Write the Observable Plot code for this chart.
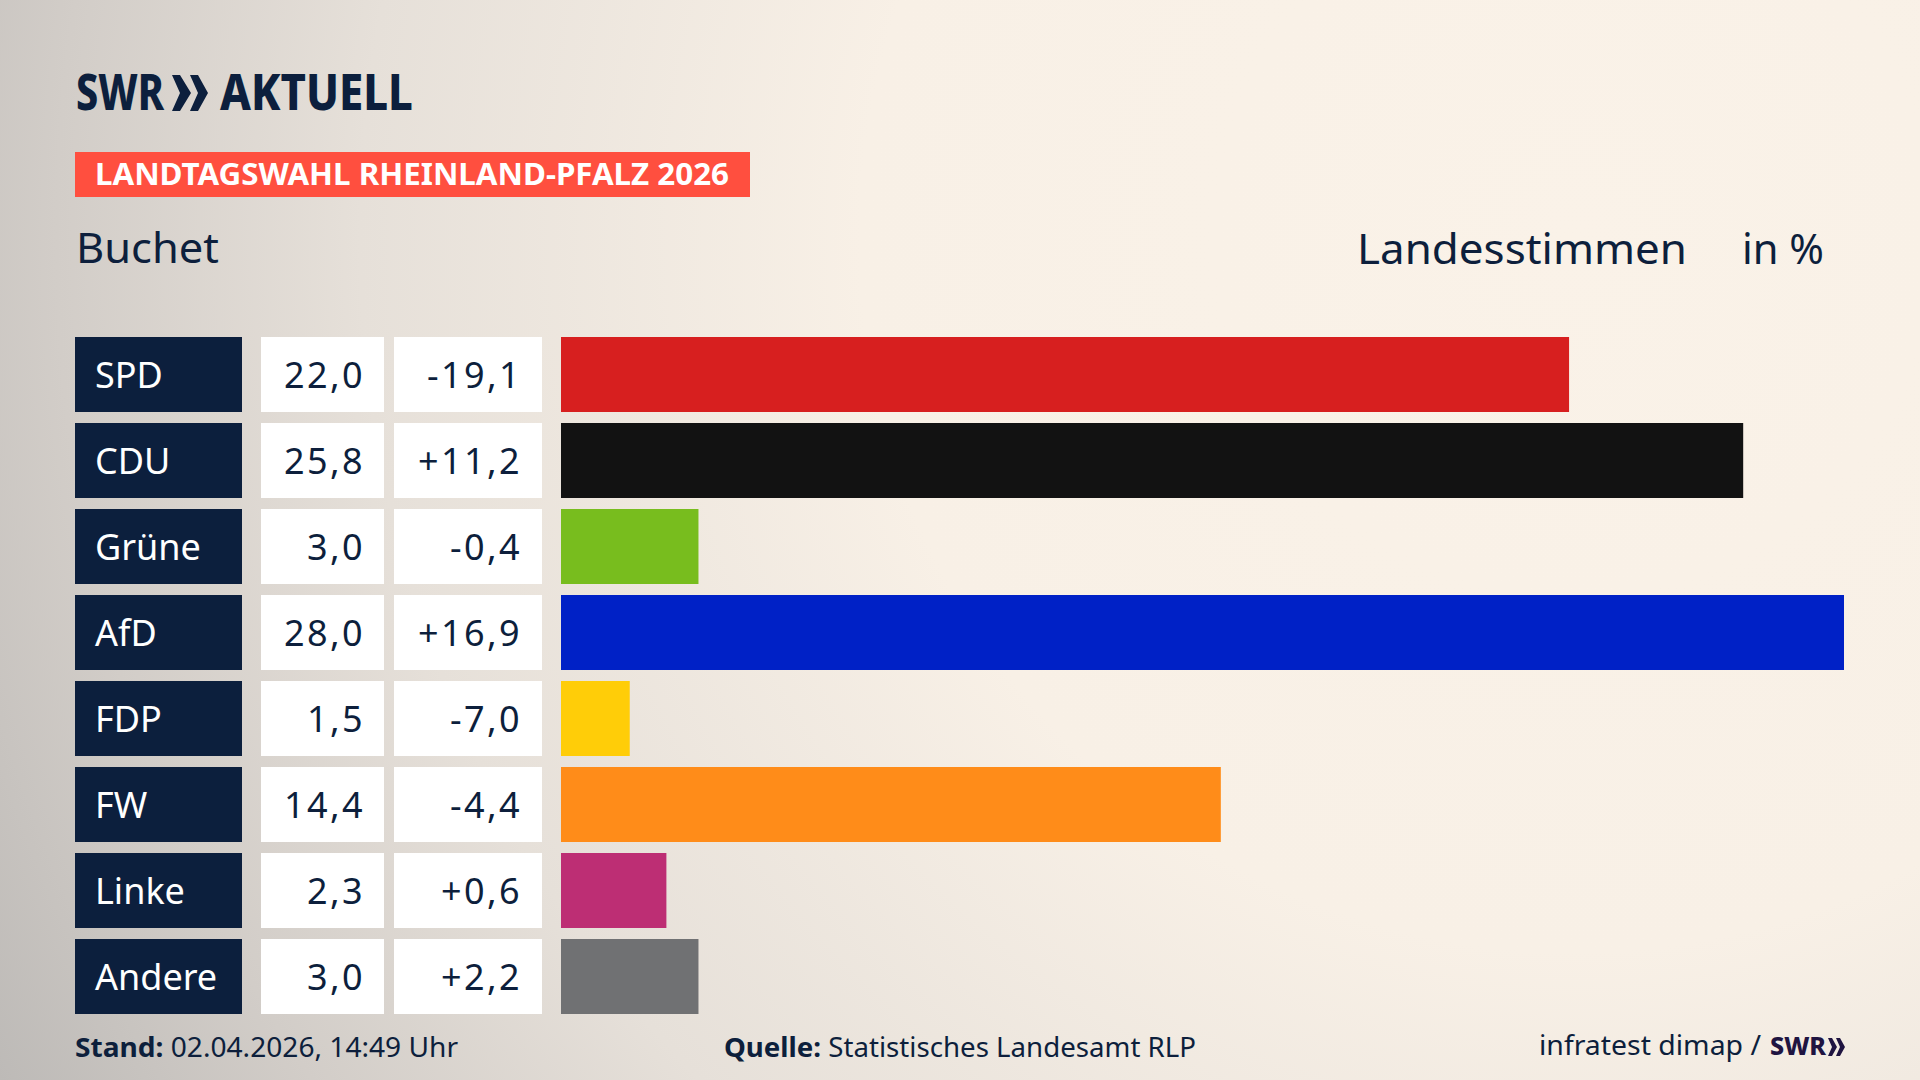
<!DOCTYPE html>
<html><head><meta charset="utf-8">
<script src="https://cdn.jsdelivr.net/npm/d3@7"></script>
<script src="https://cdn.jsdelivr.net/npm/@observablehq/plot@0.6"></script>
<style>
html,body{margin:0;padding:0;width:1920px;height:1080px;overflow:hidden;}
body{position:relative;font-family:"Noto Sans",sans-serif;color:#0d1f3c;
 background: radial-gradient(circle farthest-corner at 82% 22%, #faf2e8 0%, #f8f0e6 40%, #e6e0d9 68%, #d2cdc8 85%, #bdbab7 100%);}
#deco{position:absolute;left:0;top:0;}
#chart{position:absolute;left:561px;top:335px;}
.cell{position:absolute;display:flex;align-items:center;box-sizing:border-box;font-size:36px;}
.party{background:#0c1f3d;color:#fff;padding-left:20px;}
.num{background:#fff;color:#0d1f3c;justify-content:flex-end;letter-spacing:2.4px;}
</style></head><body>
<svg id="deco" width="1920" height="1080" xmlns="http://www.w3.org/2000/svg" font-family="Noto Sans, sans-serif">
  <g fill="#0c1f3d">
    <text x="76" y="110" font-size="49" font-weight="800" textLength="88" lengthAdjust="spacingAndGlyphs">SWR</text>
    <polygon points="172,75 180,75 191,93 180,111 172,111 180,93"/>
    <polygon points="190,75 198,75 208,93 198,111 190,111 198,93"/>
    <text x="220" y="110" font-size="49" font-weight="800" textLength="193" lengthAdjust="spacingAndGlyphs">AKTUELL</text>
  </g>
  <rect x="75" y="152" width="675" height="45" fill="#ff4f3f"/>
  <text x="95" y="185" font-size="30" font-weight="700" fill="#fff" textLength="634" lengthAdjust="spacingAndGlyphs">LANDTAGSWAHL RHEINLAND-PFALZ 2026</text>
  <text x="76" y="263" font-size="42" fill="#0d1f3c" textLength="143" lengthAdjust="spacingAndGlyphs">Buchet</text>
  <text x="1357" y="264" font-size="42" fill="#0d1f3c" textLength="330" lengthAdjust="spacingAndGlyphs">Landesstimmen</text>
  <text x="1742" y="264" font-size="42" fill="#0d1f3c" textLength="82" lengthAdjust="spacingAndGlyphs">in %</text>
  <text x="75" y="1057" font-size="27" fill="#0d1f3c" textLength="383" lengthAdjust="spacingAndGlyphs"><tspan font-weight="700">Stand:</tspan> 02.04.2026, 14:49 Uhr</text>
  <text x="724" y="1057" font-size="27" fill="#0d1f3c" textLength="472" lengthAdjust="spacingAndGlyphs"><tspan font-weight="700">Quelle:</tspan> Statistisches Landesamt RLP</text>
  <text x="1539" y="1055" font-size="27" fill="#0d1f3c" textLength="222" lengthAdjust="spacingAndGlyphs">infratest dimap /</text>
  <g fill="#1f1441">
    <text x="1770" y="1055" font-size="24" font-weight="800" textLength="56" lengthAdjust="spacingAndGlyphs">SWR</text>
    <polygon points="1828,1038 1832,1038 1837,1047 1832,1056 1828,1056 1832,1047"/>
    <polygon points="1836,1038 1840,1038 1845,1047 1840,1056 1836,1056 1840,1047"/>
  </g>
</svg>
<div id="chart"></div>
<script>
const parties = ["SPD","CDU","Grüne","AfD","FDP","FW","Linke","Andere"];
const shares  = [22.0, 25.8, 3.0, 28.0, 1.5, 14.4, 2.3, 3.0];
const changes = [-19.1, 11.2, -0.4, 16.9, -7.0, -4.4, 0.6, 2.2];
const colors  = ["#d71f1f","#121212","#78bd1e","#0021c6","#ffcd08","#ff8c19","#bd2e74","#707173"];

const data = parties.map((p,i)=>({party:p, share:shares[i], change:changes[i]}));
const fmt = v => v.toFixed(1).replace(".", ",");
const fmtChange = v => (v > 0 ? "+" : "") + fmt(v);

const plot = Plot.plot({
  width: 1283, height: 680,
  marginTop: 0, marginBottom: 0, marginLeft: 0, marginRight: 0,
  style: {background: "transparent"},
  x: {domain: [0, 28], axis: null},
  y: {domain: parties, paddingInner: 0.132, paddingOuter: 0, axis: null},
  color: {domain: parties, range: colors},
  marks: [
    Plot.barX(data, {x: "share", y: "party", fill: "party"})
  ]
});
document.getElementById("chart").appendChild(plot);

// Table cells aligned to the plot's own y scale
const ys = plot.scale("y");
const bw = ys.bandwidth;
const yOf = v => ys.apply(v);
const top0 = 335;
const cols = [
  {cls:"party", left:75, width:167, text:d=>d.party},
  {cls:"num", left:261, width:123, pr:19, text:d=>fmt(d.share)},
  {cls:"num", left:394, width:148, pr:20, text:d=>fmtChange(d.change)}
];
for (const d of data) {
  for (const c of cols) {
    const el = document.createElement("div");
    el.className = "cell " + c.cls;
    el.style.left = c.left + "px";
    el.style.width = c.width + "px";
    el.style.top = (top0 + yOf(d.party)) + "px";
    el.style.height = bw + "px";
    if (c.pr) el.style.paddingRight = c.pr + "px";
    el.textContent = c.text(d);
    document.body.appendChild(el);
  }
}
</script>
</body></html>
